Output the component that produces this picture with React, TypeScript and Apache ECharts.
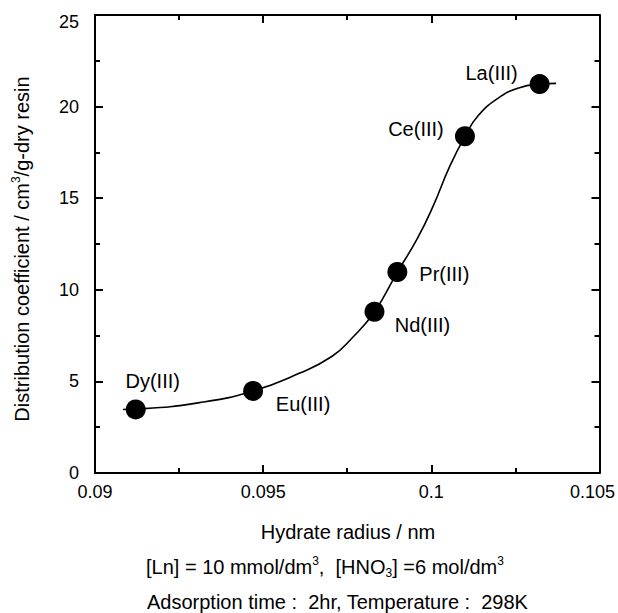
import React, { useEffect, useRef } from "react";
import * as echarts from "echarts";

// ---- data ----
const ionNames = ["Dy(III)", "Eu(III)", "Nd(III)", "Pr(III)", "Ce(III)", "La(III)"];
const hydrateRadius = [0.09121, 0.0947, 0.09831, 0.09899, 0.101, 0.10322];
const distCoeff = [3.47, 4.48, 8.8, 10.97, 18.38, 21.23];

// fitted curve
const curveX = [0.09083, 0.09121, 0.09311, 0.0947, 0.09607, 0.09704, 0.09763, 0.09831, 0.09899, 0.09957, 0.10005, 0.10055, 0.101, 0.10139, 0.10198, 0.10257, 0.10322, 0.10371];
const curveY = [3.47, 3.49, 3.84, 4.48, 5.44, 6.36, 7.34, 8.8, 10.97, 12.75, 14.55, 16.75, 18.38, 19.5, 20.45, 21.0, 21.23, 21.27];

const xTicks = [0.09, 0.095, 0.1, 0.105];
const yTicks = [0, 5, 10, 15, 20, 25];

// label offsets (layout only), in px relative to marker centre
const labelOffsets: [number, number][] = [
  [17, -28],
  [50, 13],
  [48, 13],
  [47, 2],
  [-49, -7],
  [-48, -11],
];

const FONT = "'Liberation Sans', Arial, Helvetica, sans-serif";

export default function App() {
  const ref = useRef<HTMLDivElement>(null);
  useEffect(() => {
    document.body.style.margin = "0";
    if (!ref.current) return;
    const chart = echarts.init(ref.current, undefined, { renderer: "svg" });

    const axisCommon = (show: boolean) => ({
      axisLine: { show: true, onZero: false, lineStyle: { color: "#000", width: 2 } },
      axisTick: { show: true, inside: true, length: 8, lineStyle: { color: "#000", width: 2 } },
      minorTick: { show: true, splitNumber: 2, length: 5, lineStyle: { color: "#000", width: 2 } },
      splitLine: { show: false },
      minorSplitLine: { show: false },
      axisLabel: { show },
    });

    const xMin = xTicks[0];
    const xMax = xTicks[xTicks.length - 1];
    const xStep = xTicks[1] - xTicks[0];
    const yMin = yTicks[0];
    const yMax = yTicks[yTicks.length - 1];
    const yStep = yTicks[1] - yTicks[0];

    const fmtX = (v: number) => {
      const s = parseFloat(v.toFixed(4)).toString();
      return Math.abs(v - xMax) < 1e-6 ? `{r|${s}}` : s;
    };
    const fmtY = (v: number) => {
      const s = String(Math.round(v));
      return Math.abs(v - yMax) < 1e-6 ? `{t|${s}}` : s;
    };

    const option: any = {
      animation: false,
      backgroundColor: "#fff",
      grid: { left: 95, right: 16, top: 15, bottom: 140, containLabel: false },
      xAxis: [
        {
          type: "value",
          min: xMin,
          max: xMax,
          interval: xStep,
          position: "bottom",
          ...axisCommon(true),
          axisLabel: {
            show: true,
            color: "#000",
            fontSize: 18,
            fontFamily: FONT,
            margin: 10,
            formatter: fmtX,
            rich: { r: { padding: [0, 14, 0, 0], fontSize: 18, fontFamily: FONT, color: "#000" } },
          },
        },
        {
          type: "value",
          min: xMin,
          max: xMax,
          interval: xStep,
          position: "top",
          ...axisCommon(false),
        },
      ],
      yAxis: [
        {
          type: "value",
          min: yMin,
          max: yMax,
          interval: yStep,
          position: "left",
          ...axisCommon(true),
          axisLabel: {
            show: true,
            color: "#000",
            fontSize: 18,
            fontFamily: FONT,
            margin: 16,
            formatter: fmtY,
            rich: { t: { padding: [13, 0, 0, 0], fontSize: 18, fontFamily: FONT, color: "#000" } },
          },
        },
        {
          type: "value",
          min: yMin,
          max: yMax,
          interval: yStep,
          position: "right",
          ...axisCommon(false),
        },
      ],
      series: [
        {
          type: "line",
          name: "fit",
          data: curveX.map((x, i) => [x, curveY[i]]),
          showSymbol: false,
          symbol: "none",
          smooth: 0.5,
          lineStyle: { color: "#000", width: 1.6 },
          z: 2,
        },
        {
          type: "scatter",
          name: "ions",
          symbol: "circle",
          symbolSize: 20,
          itemStyle: { color: "#000", opacity: 1 },
          z: 3,
          data: hydrateRadius.map((x, i) => ({
            value: [x, distCoeff[i]],
            name: ionNames[i],
            label: {
              show: true,
              position: "inside",
              offset: labelOffsets[i],
              formatter: ionNames[i],
              color: "#000",
              opacity: 1,
              fontSize: 20,
              fontFamily: FONT,
              align: "center",
              verticalAlign: "middle",
            },
          })),
        },
      ],
      graphic: [
        {
          type: "text",
          x: 22,
          y: 249,
          rotation: Math.PI / 2,
          style: {
            text: "Distribution coefficient / cm{sup|3}/g-dry resin",
            fill: "#000",
            fontSize: 20,
            fontFamily: FONT,
            align: "center",
            verticalAlign: "middle",
            lineHeight: 24,
            rich: {
              sup: { fontSize: 12, fontFamily: FONT, fill: "#000", verticalAlign: "top", lineHeight: 12 },
            },
          },
        },
        {
          type: "text",
          x: 348,
          y: 532,
          style: {
            text: "Hydrate radius / nm",
            fill: "#000",
            fontSize: 20,
            fontFamily: FONT,
            align: "center",
            verticalAlign: "middle",
          },
        },
        {
          type: "text",
          x: 146,
          y: 567,
          style: {
            text: "[Ln] = 10 mmol/dm{sup|3},  [HNO{sub|3}] =6 mol/dm{sup|3}",
            fill: "#000",
            fontSize: 20,
            fontFamily: FONT,
            align: "left",
            verticalAlign: "middle",
            lineHeight: 24,
            rich: {
              sup: { fontSize: 12, fontFamily: FONT, fill: "#000", verticalAlign: "top", lineHeight: 12 },
              sub: { fontSize: 12, fontFamily: FONT, fill: "#000", verticalAlign: "bottom", lineHeight: 12 },
            },
          },
        },
        {
          type: "text",
          x: 147,
          y: 602,
          style: {
            text: "Adsorption time :  2hr, Temperature :  298K",
            fill: "#000",
            fontSize: 20,
            fontFamily: FONT,
            align: "left",
            verticalAlign: "middle",
          },
        },
      ],
    };

    chart.setOption(option);
    return () => {
      chart.dispose();
    };
  }, []);

  return <div ref={ref} style={{ width: 618, height: 613 }} />;
}
